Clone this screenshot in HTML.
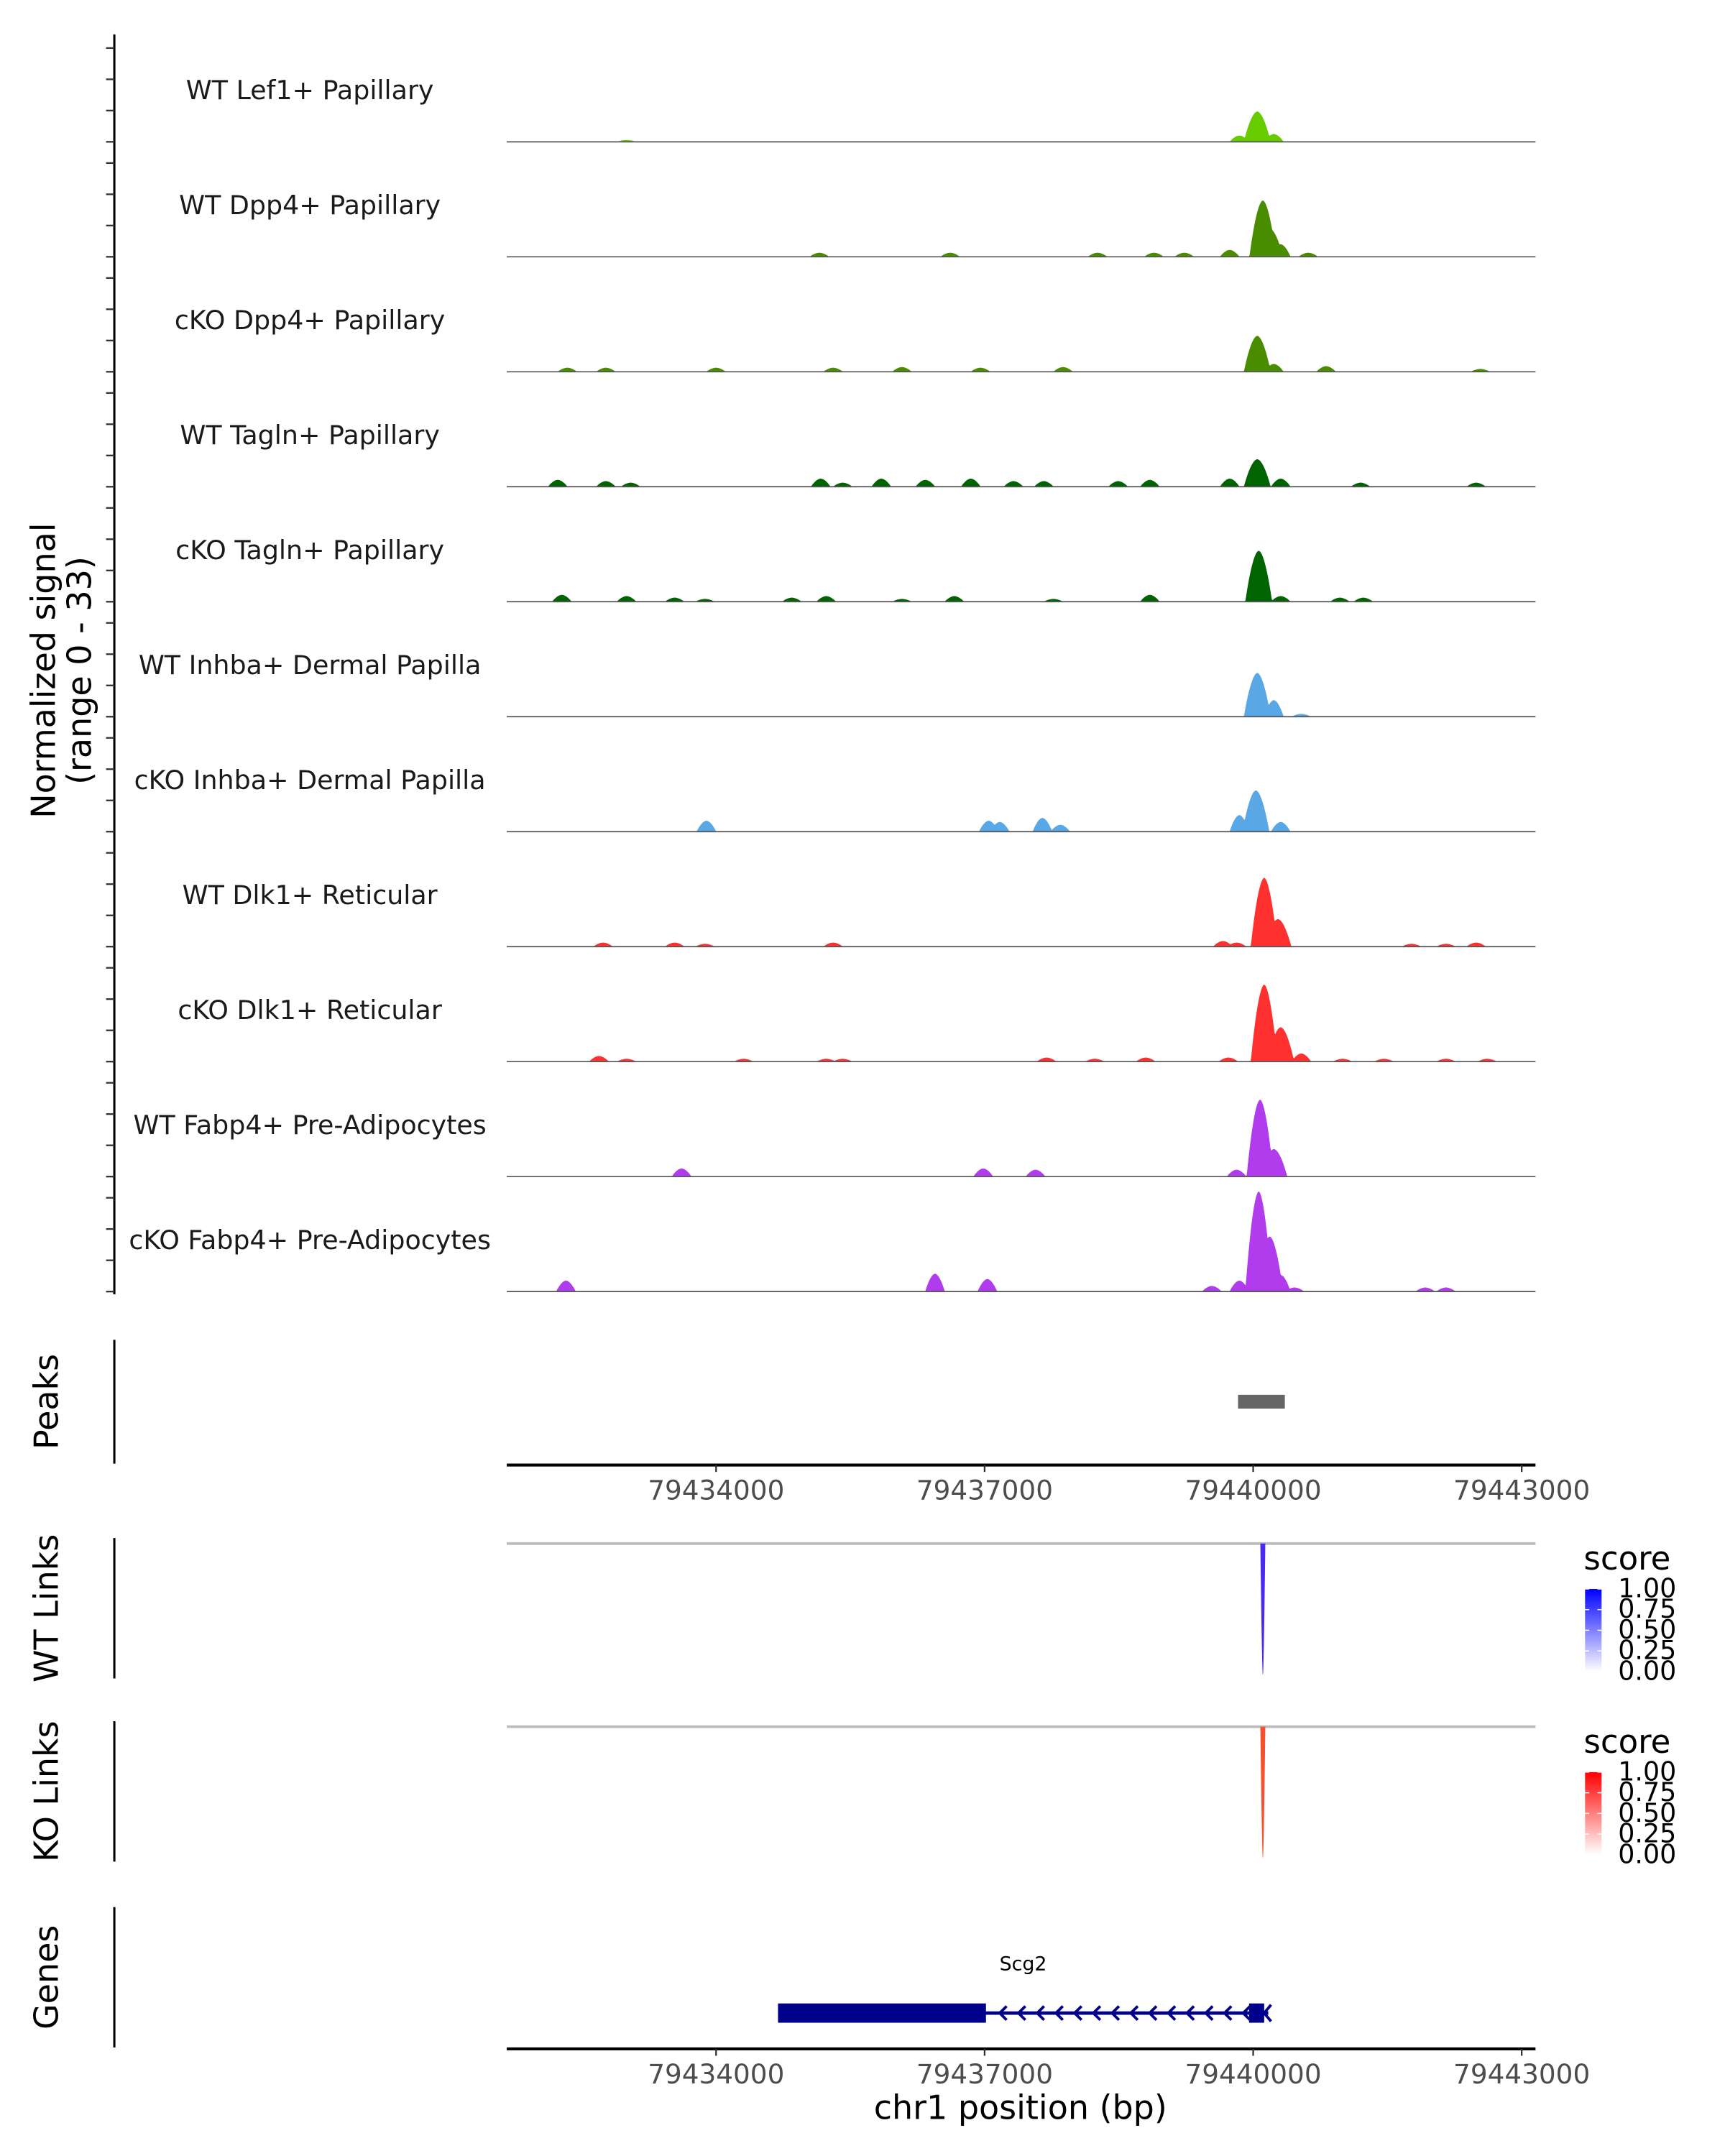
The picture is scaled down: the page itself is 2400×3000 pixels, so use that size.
<!DOCTYPE html>
<html><head><meta charset="utf-8"><style>
html,body{margin:0;padding:0;background:#fff}
svg{display:block}
text{font-family:"DejaVu Sans","Liberation Sans",sans-serif}
</style></head><body>
<svg id="chart" xmlns="http://www.w3.org/2000/svg" width="2400" height="3000" viewBox="0 0 1252.6 1565.8">
<rect width="1252.6" height="1565.8" fill="#fff"/>
<g id="tracks"></g>
<g id="rest"></g>
</svg>
<script>
const trackNames = ["WT Lef1+ Papillary","WT Dpp4+ Papillary","cKO Dpp4+ Papillary","WT Tagln+ Papillary","cKO Tagln+ Papillary","WT Inhba+ Dermal Papilla","cKO Inhba+ Dermal Papilla","WT Dlk1+ Reticular","cKO Dlk1+ Reticular","WT Fabp4+ Pre-Adipocytes","cKO Fabp4+ Pre-Adipocytes"];
const trackColors = ["#66cc00","#4a8c00","#4a8c00","#006400","#006400","#5aa7e6","#5aa7e6","#ff3030","#ff3030","#b03ced","#b03ced"];
// peak centres (bp) and heights (normalized signal) per track
const pos1 = [79433000,79439846,79440046,79440231];
const val1 = [0.6,2,9.7,2.5];
const pos2 = [79435154,79436615,79438262,79438892,79439231,79439738,79440108,79440185,79440308,79440615];
const val2 = [1.3,1.3,1.3,1.3,1.3,2.2,18,9,4,1.3];
const pos3 = [79432338,79432769,79434000,79435308,79436077,79436954,79437877,79440046,79440231,79440815,79442538];
const val3 = [1.3,1.3,1.3,1.3,1.5,1.3,1.5,11.5,2.5,1.8,0.9];
const pos4 = [79432231,79432769,79433046,79435169,79435415,79435846,79436338,79436846,79437323,79437662,79438492,79438846,79439738,79440046,79440308,79441200,79442492];
const val4 = [2.2,1.8,1.3,2.6,1.3,2.6,2.2,2.6,1.8,1.8,1.8,2.2,2.6,8.8,2.6,1.3,1.3];
const pos5 = [79432277,79433000,79433538,79433877,79434846,79435231,79436077,79436662,79437769,79438846,79440062,79440308,79440969,79441231];
const val5 = [2.2,1.8,1.3,0.9,1.3,1.8,0.9,1.8,0.9,2.2,16.3,1.8,1.3,1.3];
const pos6 = [79440046,79440231,79440538];
const val6 = [14,5.3,0.9];
const pos7 = [79433892,79437046,79437169,79437646,79437846,79439846,79440031,79440308];
const val7 = [3.5,3.5,3.1,4.4,2.2,5.3,13.2,3.1];
const pos8 = [79432738,79433538,79433877,79435308,79439662,79439815,79440123,79440277,79441769,79442154,79442492];
const val8 = [1.3,1.3,0.9,1.3,1.8,1.3,22,8.8,0.9,0.9,1.3];
const pos9 = [79432692,79433000,79434308,79435231,79435415,79437692,79438231,79438800,79439723,79440123,79440308,79440538,79441000,79441462,79442154,79442615];
const val9 = [1.8,0.9,0.9,0.9,0.9,1.3,0.9,1.3,1.3,24.6,11,2.6,0.9,0.9,0.9,0.9];
const pos10 = [79433615,79436985,79437569,79439815,79440077,79440231];
const val10 = [2.6,2.6,2.2,2.2,24.6,8.8];
const pos11 = [79432323,79436446,79437031,79439538,79439846,79440062,79440185,79440308,79440462,79441923,79442154];
const val11 = [3.5,5.7,4,1.8,3.5,32,17.6,5.3,1.3,1.3,1.3];
const trackPos = [pos1,pos2,pos3,pos4,pos5,pos6,pos7,pos8,pos9,pos10,pos11];
const trackVal = [val1,val2,val3,val4,val5,val6,val7,val8,val9,val10,val11];
const xTicks = [79434000,79437000,79440000,79443000];
const peakStart = [79439831], peakEnd = [79440354];
const wtLink = [79440108], koLink = [79440108];
const geneName = ["Scg2"];
const geneStart = [79434692], geneEnd = [79440169];
const cdsStart = [79434692], cdsEnd = [79437015];
const exon2Start = [79439954], exon2End = [79440123];
const legendTicks = ["1.00","0.75","0.50","0.25","0.00"];

const NS="http://www.w3.org/2000/svg";
const X0=368, X1=1115, BP0=79431662, BP1=79443154;
const x = bp => X0 + (bp-BP0)/(BP1-BP0)*(X1-X0);
const yscale = 2.27;
function mk(tag, attrs, parent, text){
  const e=document.createElementNS(NS,tag);
  for(const k in attrs) e.setAttribute(k,attrs[k]);
  if(text!==undefined) e.textContent=text;
  parent.appendChild(e); return e;
}
const T=document.getElementById('tracks'), R=document.getElementById('rest');
const ax=mk('line',{x1:83,y1:25,x2:83,y2:940,stroke:'#000','stroke-width':1.6},T);


const yt=mk('text',{transform:'translate(40,487) rotate(-90)','text-anchor':'middle','font-size':24,fill:'#000'},T);


mk('tspan',{x:0,dy:0},yt,'Normalized signal');
mk('tspan',{x:0,dy:26},yt,'(range 0 - 33)');
for(let t=0;t<11;t++){
  const base=103+t*83.5;
  for(const v of [0,10,20,30]){
    const tk=mk('line',{x1:77,x2:83,y1:base-v*yscale,y2:base-v*yscale,stroke:'#333','stroke-width':1.2},T);
    
    
  }
  const lb=mk('text',{x:225,y:base-31,'text-anchor':'middle','font-size':19,fill:'#1a1a1a'},T,trackNames[t]);
  
  
  const P=trackPos[t], V=trackVal[t];
  let d='M'+X0+','+base;
  for(let px=X0;px<=X1;px+=0.5){
    const bp=BP0+(px-X0)/(X1-X0)*(BP1-BP0);
    let h=0;
    for(let i=0;i<P.length;i++){
      const dd=Math.abs(bp-P[i]);
      const w=V[i]>6?150:110;
      if(dd<w){ h=Math.max(h,V[i]*(1-Math.pow(dd/w,1.8)));}
    }
    d+='L'+px+','+(base-h*yscale).toFixed(2);
  }
  d+='L'+X1+','+base+'Z';
  const ar=mk('path',{d:d,fill:trackColors[t]},T);
  
  
  const bl=mk('line',{x1:X0,x2:X1,y1:base,y2:base,stroke:'#555','stroke-width':0.9},T);
  
  
}
function panelLabel(txt,y1,y2){
  const l=mk('line',{x1:83,x2:83,y1:y1,y2:y2,stroke:'#000','stroke-width':1.6},R);
  
  
  const t=mk('text',{transform:`translate(42,${(y1+y2)/2}) rotate(-90)`,'text-anchor':'middle','font-size':24,fill:'#000'},R,txt);
  
  
}
function xAxis(y){
  const l=mk('line',{x1:X0,x2:X1,y1:y,y2:y,stroke:'#000','stroke-width':2.2},R);
  
  
  for(const b of xTicks){
    const tk=mk('line',{x1:x(b),x2:x(b),y1:y,y2:y+5,stroke:'#333','stroke-width':1.2},R);
    
    
    const tl=mk('text',{x:x(b),y:y+25,'text-anchor':'middle','font-size':19.5,fill:'#4d4d4d'},R,String(b));
    
    
  }
}
panelLabel('Peaks',973,1063);
for(let i=0;i<peakStart.length;i++){
  const r=mk('rect',{x:x(peakStart[i]),y:1013,width:x(peakEnd[i])-x(peakStart[i]),height:10,fill:'#666'},R);
  
  
}
xAxis(1064);
function links(label,y0,arr,col,gid,c1){
  panelLabel(label,y0-4,y0+98);
  const gl=mk('line',{x1:X0,x2:X1,y1:y0,y2:y0,stroke:'#bdbdbd','stroke-width':2},R);
  
  
  for(const b of arr){
    const xx=x(b);
    const p=mk('path',{d:`M${xx-1.8},${y0} Q${xx-0.5},${y0+100} ${xx},${y0+95} Q${xx+0.6},${y0+100} ${xx+1.8},${y0}Z`,fill:col},R);
    
    
  }
  const defs=mk('defs',{},R);
  const lg=mk('linearGradient',{id:gid,x1:0,y1:0,x2:0,y2:1},defs);
  mk('stop',{offset:0,'stop-color':c1},lg);
  mk('stop',{offset:1,'stop-color':'#fff'},lg);
  const st=mk('text',{x:1150,y:y0+19,'font-size':23.5,fill:'#000'},R,'score');
  
  
  const by=y0+33, bh=60;
  const cb=mk('rect',{x:1151,y:by,width:12,height:bh,fill:`url(#${gid})`},R);
  
  
  legendTicks.forEach((t,i)=>{
    const ty=by+i*bh/4;
    mk('line',{x1:1151,x2:1154,y1:ty,y2:ty,stroke:'#fff','stroke-width':0.8},R);
    mk('line',{x1:1160,x2:1163,y1:ty,y2:ty,stroke:'#fff','stroke-width':0.8},R);
    const lt=mk('text',{x:1175,y:ty+6,'font-size':19,fill:'#000'},R,t);
    
    
  });
}
links('WT Links',1121,wtLink,'#4a2af0','gb','#0000ff');
links('KO Links',1254,koLink,'#f5502f','gr','#ff0000');
panelLabel('Genes',1385,1487);
for(let i=0;i<geneName.length;i++){
  const gy=1462;
  const ln=mk('line',{x1:x(geneStart[i]),x2:x(geneEnd[i]),y1:gy,y2:gy,stroke:'#00008b','stroke-width':2.5},R);
  
  
  for(let cx=x(cdsEnd[i])+12;cx<x(exon2Start[i])-2;cx+=13.6){
    mk('path',{d:`M${cx+3},${gy-5} L${cx-2},${gy} L${cx+3},${gy+5}`,fill:'none',stroke:'#00008b','stroke-width':2},R);
  }
  const cds=mk('rect',{x:x(cdsStart[i]),y:1455,width:x(cdsEnd[i])-x(cdsStart[i]),height:14,fill:'#00008b'},R);
  
  
  const ex=mk('rect',{x:x(exon2Start[i]),y:1455,width:x(exon2End[i])-x(exon2Start[i]),height:14,fill:'#00008b'},R);
  
  
  mk('path',{d:`M${x(geneEnd[i])+2},${gy-6} L${x(geneEnd[i])-3},${gy} L${x(geneEnd[i])+2},${gy+6}`,fill:'none',stroke:'#00008b','stroke-width':2},R);
  const gn=mk('text',{x:(x(geneStart[i])+x(geneEnd[i]))/2,y:1431,'text-anchor':'middle','font-size':14,fill:'#000'},R,geneName[i]);
  
  
}
xAxis(1488);
const xt=mk('text',{x:741,y:1539,'text-anchor':'middle','font-size':24,fill:'#000'},R,'chr1 position (bp)');


</script>
</body></html>
